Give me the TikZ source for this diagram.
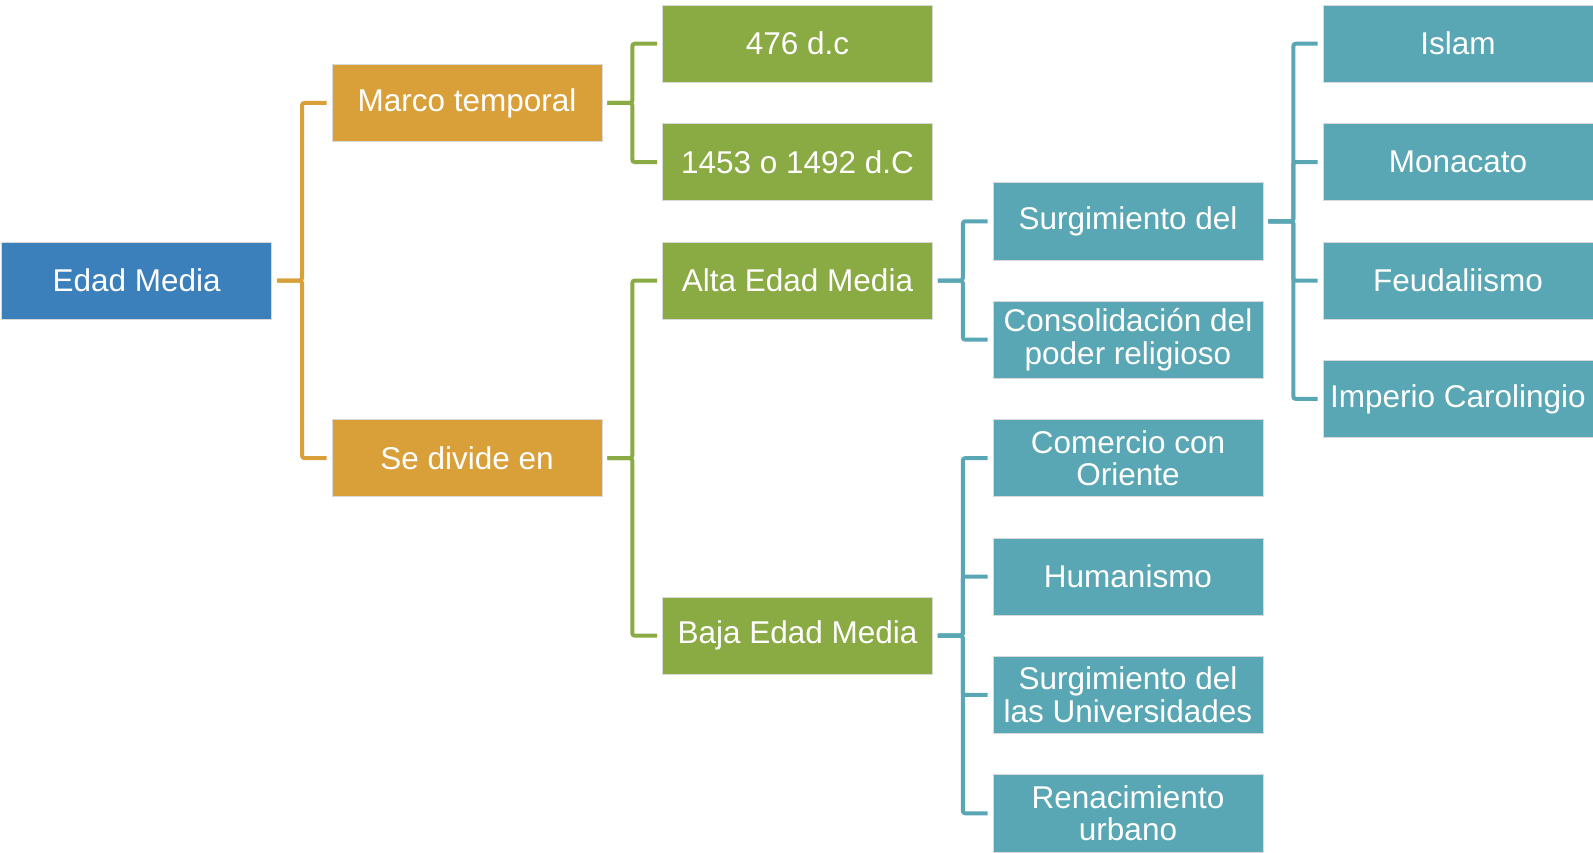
\documentclass[tikz,border=0pt]{standalone}
\usepackage{fontspec}
\setmainfont{Liberation Sans}
\definecolor{cblue}{HTML}{3B80BA}
\definecolor{corange}{HTML}{D9A03A}
\definecolor{cgreen}{HTML}{8AAA43}
\definecolor{cteal}{HTML}{59A7B4}
\tikzset{
  boxbase/.style={rectangle, draw=white!85!black, line width=0.6pt, minimum width=270pt, minimum height=77.3pt,
    inner sep=0pt, text=white, align=center, font=\fontsize{31.5}{32.5}\selectfont},
  bluebox/.style={boxbase, fill=cblue},
  orangebox/.style={boxbase, fill=corange},
  greenbox/.style={boxbase, fill=cgreen},
  tealbox/.style={boxbase, fill=cteal},
  linkbase/.style={line width=4pt, rounded corners=2.5pt},
  orangelink/.style={linkbase, draw=corange},
  greenlink/.style={linkbase, draw=cgreen},
  teallink/.style={linkbase, draw=cteal},
}
\begin{document}
\begin{tikzpicture}[x=1pt,y=-1pt]
\useasboundingbox (0,0) rectangle (1593,852);
% row center: 43.7 + 59.2 k
\node[bluebox] (em) at (136.7, 280.5) {Edad Media};
\node[orangebox] (marco) at (467, 102.9) {Marco temporal};
\node[orangebox] (divide) at (467, 458.1) {Se divide en};
\node[greenbox] (d476) at (797.5, 43.7) {476 d.c};
\node[greenbox] (d1453) at (797.5, 162.1) {1453 o 1492 d.C};
\node[greenbox] (alta) at (797.5, 280.5) {Alta Edad Media};
\node[greenbox] (baja) at (797.5, 635.7) {Baja Edad Media};
\node[tealbox] (surg) at (1128, 221.3) {Surgimiento del};
\node[tealbox] (consol) at (1128, 339.7) {Consolidación del\\poder religioso};
\node[tealbox] (comercio) at (1128, 458.1) {Comercio con\\Oriente};
\node[tealbox] (human) at (1128, 576.5) {Humanismo};
\node[tealbox] (univ) at (1128, 694.9) {Surgimiento del\\las Universidades};
\node[tealbox] (renac) at (1128, 813.3) {Renacimiento\\urbano};
\node[tealbox] (islam) at (1458, 43.7) {Islam};
\node[tealbox] (monac) at (1458, 162.1) {Monacato};
\node[tealbox] (feud) at (1458, 280.5) {Feudaliismo};
\node[tealbox] (imper) at (1458, 398.9) {Imperio Carolingio};
% connectors
\foreach \c in {marco,divide}
  \draw[orangelink] ([xshift=5pt]em.east) -- ++(25,0) |- ([xshift=-5pt]\c.west);
\foreach \c in {d476,d1453}
  \draw[greenlink] ([xshift=5pt]marco.east) -- ++(25,0) |- ([xshift=-5pt]\c.west);
\foreach \c in {alta,baja}
  \draw[greenlink] ([xshift=5pt]divide.east) -- ++(25,0) |- ([xshift=-5pt]\c.west);
\foreach \c in {surg,consol}
  \draw[teallink] ([xshift=5pt]alta.east) -- ++(25,0) |- ([xshift=-5pt]\c.west);
\foreach \c in {comercio,human,univ,renac}
  \draw[teallink] ([xshift=5pt]baja.east) -- ++(25,0) |- ([xshift=-5pt]\c.west);
\foreach \c in {islam,monac,feud,imper}
  \draw[teallink] ([xshift=5pt]surg.east) -- ++(25,0) |- ([xshift=-5pt]\c.west);
\end{tikzpicture}
\end{document}
